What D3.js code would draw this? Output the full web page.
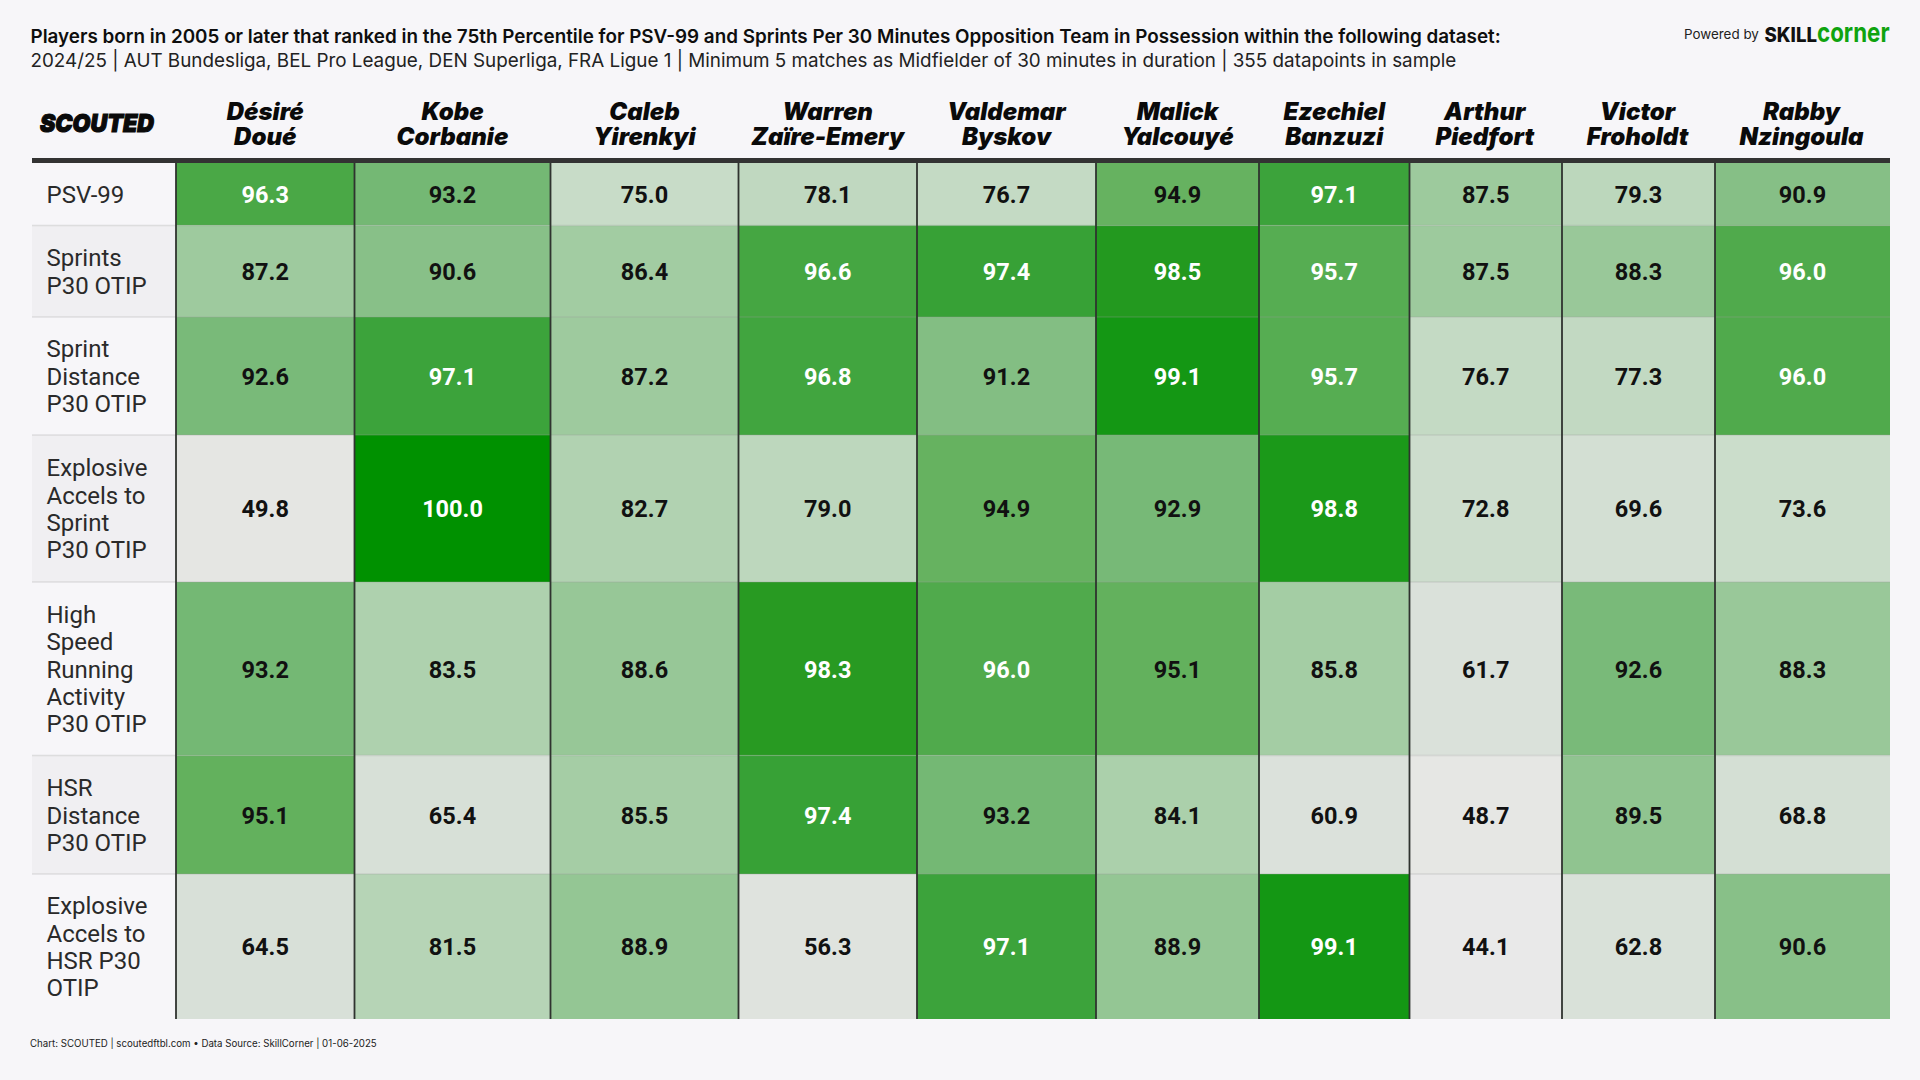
<!DOCTYPE html>
<html><head><meta charset="utf-8">
<script src="https://cdn.jsdelivr.net/npm/d3@7"></script>
<style>html,body{margin:0;padding:0;background:#f7f6f9;overflow:hidden}svg{display:block}</style>
</head><body><svg id="c" width="1920" height="1080"></svg>
<script>
const titleText = "Players born in 2005 or later that ranked in the 75th Percentile for PSV-99 and Sprints Per 30 Minutes Opposition Team in Possession within the following dataset:";
const subtitleText = "2024/25 | AUT Bundesliga, BEL Pro League, DEN Superliga, FRA Ligue 1 | Minimum 5 matches as Midfielder of 30 minutes in duration | 355 datapoints in sample";
const footerText = "Chart: SCOUTED | scoutedftbl.com • Data Source: SkillCorner | 01-06-2025";
const players = [["Désiré","Doué"],["Kobe","Corbanie"],["Caleb","Yirenkyi"],["Warren","Zaïre-Emery"],["Valdemar","Byskov"],["Malick","Yalcouyé"],["Ezechiel","Banzuzi"],["Arthur","Piedfort"],["Victor","Froholdt"],["Rabby","Nzingoula"]];
const metrics = [["PSV-99"],["Sprints","P30 OTIP"],["Sprint","Distance","P30 OTIP"],["Explosive","Accels to","Sprint","P30 OTIP"],["High","Speed","Running","Activity","P30 OTIP"],["HSR","Distance","P30 OTIP"],["Explosive","Accels to","HSR P30","OTIP"]];
const psv99 = [96.3,93.2,75.0,78.1,76.7,94.9,97.1,87.5,79.3,90.9];
const sprints = [87.2,90.6,86.4,96.6,97.4,98.5,95.7,87.5,88.3,96.0];
const sprintDistance = [92.6,97.1,87.2,96.8,91.2,99.1,95.7,76.7,77.3,96.0];
const accelsToSprint = [49.8,100.0,82.7,79.0,94.9,92.9,98.8,72.8,69.6,73.6];
const hsrActivity = [93.2,83.5,88.6,98.3,96.0,95.1,85.8,61.7,92.6,88.3];
const hsrDistance = [95.1,65.4,85.5,97.4,93.2,84.1,60.9,48.7,89.5,68.8];
const accelsToHsr = [64.5,81.5,88.9,56.3,97.1,88.9,99.1,44.1,62.8,90.6];
const rows = [psv99,sprints,sprintDistance,accelsToSprint,hsrActivity,hsrDistance,accelsToHsr];

// layout
const colEdges = [176,354.5,550.5,738.5,917,1096,1259,1409.5,1562,1715,1890];
const rowEdges = [163,225.5,317,435,582,755.5,874,1019];
const x0 = d3.scaleOrdinal(d3.range(10), colEdges.slice(0,10));
const x1 = d3.scaleOrdinal(d3.range(10), colEdges.slice(1));
const y0 = d3.scaleOrdinal(d3.range(7), rowEdges.slice(0,7));
const y1 = d3.scaleOrdinal(d3.range(7), rowEdges.slice(1));
const color = d3.scaleLinear()
  .domain([44,50,62,70,76,82,88,91,93,95,96.3,97.5,98.3,99,100])
  .range(["#e9e9e9","#e5e6e3","#dae1da","#d3dfd3","#c6dbc6","#b4d3b4","#9bc99b","#85bf85","#76b976","#65b25f","#4aa846","#35a035","#289a22","#169816","#009100"])
  .clamp(true);
const svg = d3.select("#c");
svg.append("rect").attr("width",1920).attr("height",1080).attr("fill","#f7f6f9");

const F = {inter:"Inter, sans-serif", rob:"Roboto, sans-serif"};
function T(x,y,s,o){const t=svg.append("text").attr("x",x).attr("y",y).text(s);for(const k in o)t.attr(k,o[k]);return t;}
T(30.5,43,titleText,{"font-family":F.inter,"font-size":18.85,"font-weight":600,fill:"#0e0e0e"});
T(30.5,67,subtitleText,{"font-family":F.inter,"font-size":18.84,"font-weight":400,fill:"#222"});
T(30,1047,footerText,{"font-family":F.inter,"font-size":9.7,"font-weight":400,fill:"#222"});
T(1684,39,"Powered by",{"font-family":F.inter,"font-size":13.4,"font-weight":400,fill:"#222"});
T(1764.5,42,"SKILL",{"font-family":F.inter,"font-size":20,"font-weight":800,fill:"#111",textLength:52.5,lengthAdjust:"spacingAndGlyphs"});
T(1817,42,"corner",{"font-family":F.inter,"font-size":27,"font-weight":700,fill:"#0fa30f",textLength:72.5,lengthAdjust:"spacingAndGlyphs"});
T(40,132,"SCOUTED",{"font-family":F.inter,"font-size":25,"font-weight":900,"font-style":"italic",fill:"#0a0a0a",stroke:"#0a0a0a","stroke-width":1.2,textLength:114,lengthAdjust:"spacingAndGlyphs"});

// header
players.forEach((p,i)=>{
  const cx=(x0(i)+x1(i))/2;
  p.forEach((w,j)=>T(cx-(i>6?1:0),120+j*25.3,w,{"text-anchor":"middle","font-family":F.inter,"font-size":24,"font-weight":900,"font-style":"italic",fill:"#0a0a0a"}));
});
// row labels backgrounds
metrics.forEach((m,r)=>{
  svg.append("rect").attr("x",32).attr("y",y0(r)).attr("width",144).attr("height",y1(r)-y0(r)).attr("fill",r%2?"#f0eff2":"#f7f6f9");
  const cy=(y0(r)+y1(r))/2, lh=27.4, top=cy-(m.length-1)*lh/2;
  m.forEach((w,j)=>T(46.5,top+j*lh+8.8,w,{"font-family":F.rob,"font-size":24,fill:"#2a2a2a"}));
});
// cells
rows.forEach((vals,r)=>{
  const g=svg.append("g");
  g.selectAll("rect").data(vals).join("rect")
    .attr("x",(d,i)=>x0(i)).attr("y",y0(r)).attr("width",(d,i)=>x1(i)-x0(i)).attr("height",y1(r)-y0(r))
    .attr("fill",d=>color(d));
  g.selectAll("text").data(vals).join("text")
    .attr("x",(d,i)=>(x0(i)+x1(i))/2).attr("y",(y0(r)+y1(r))/2+8.8)
    .attr("text-anchor","middle").attr("font-family",F.rob).attr("font-size",23.5).attr("font-weight",700)
    .attr("fill",d=>d>=95.5?"#fff":"#111").text(d=>d.toFixed(1));
});
// row separators
rowEdges.slice(1,-1).forEach(y=>svg.append("line").attr("x1",32).attr("x2",1890).attr("y1",y).attr("y2",y).attr("stroke","#9a9a9a").attr("stroke-opacity",.25).attr("stroke-width",1.5));
// column lines
colEdges.slice(0,-1).forEach(x=>svg.append("line").attr("x1",x).attr("x2",x).attr("y1",163).attr("y2",1019).attr("stroke","#2f332f").attr("stroke-width",1.8));
// header rule
svg.append("rect").attr("x",32).attr("y",158).attr("width",1858).attr("height",5).attr("fill","#333");
</script></body></html>
